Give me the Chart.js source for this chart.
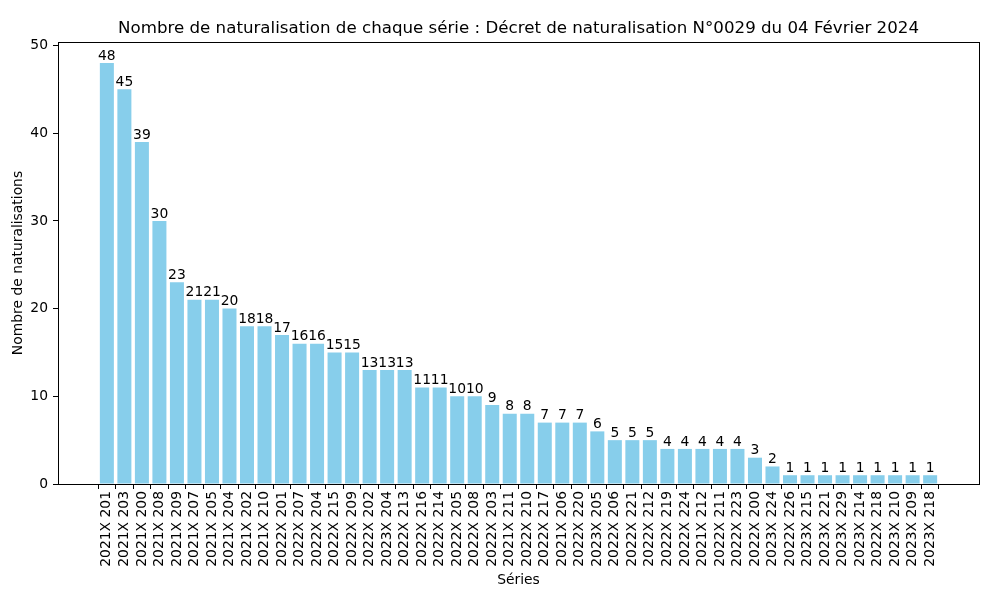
<!DOCTYPE html>
<html><head><meta charset="utf-8">
<script src="https://cdn.jsdelivr.net/npm/chart.js@4"></script>
<style>html,body{margin:0;padding:0;background:#fff}#w{width:989px;height:593px}</style>
</head><body><div id="w"><canvas id="c"></canvas></div>
<script>
const series = ["2021X 201","2021X 203","2021X 200","2021X 208","2021X 209","2021X 207","2021X 205","2021X 204","2021X 202","2021X 210","2022X 201","2022X 207","2022X 204","2022X 215","2022X 209","2022X 202","2023X 204","2022X 213","2022X 216","2022X 214","2022X 205","2022X 208","2022X 203","2021X 211","2022X 210","2022X 217","2021X 206","2022X 220","2023X 205","2022X 206","2022X 221","2022X 212","2022X 219","2022X 224","2021X 212","2022X 211","2022X 223","2022X 200","2023X 224","2022X 226","2023X 215","2023X 221","2023X 229","2023X 214","2022X 218","2023X 210","2023X 209","2023X 218"];
const counts = [48,45,39,30,23,21,21,20,18,18,17,16,16,15,15,13,13,13,11,11,10,10,9,8,8,7,7,7,6,5,5,5,4,4,4,4,4,3,2,1,1,1,1,1,1,1,1,1];
const yTicks = [0,10,20,30,40,50];
const titleText = 'Nombre de naturalisation de chaque série : Décret de naturalisation N°0029 du 04 Février 2024';

const FONT = "'DejaVu Sans', sans-serif";
const FS = 13.89, TFS = 16.67;
Chart.defaults.font.family = FONT;
Chart.defaults.color = '#000';

const n = series.length;
const span = (n - 1) + 0.8;
const xMin = -0.4 - 0.05 * span, xMax = (n - 1) + 0.4 + 0.05 * span;
const yMax = Math.max(...counts) * 1.05;

const boxPlugin = {
  id: 'box',
  afterDatasetsDraw(chart) {
    const ctx = chart.ctx, a = chart.chartArea;
    ctx.save();
    ctx.strokeStyle = '#000'; ctx.lineWidth = 1;
    ctx.strokeRect(Math.round(a.left) + 0.5, Math.round(a.top) + 0.5, Math.round(a.right - a.left), Math.round(a.bottom - a.top));
    const meta = chart.getDatasetMeta(0);
    ctx.font = FS + "px " + FONT;
    ctx.fillStyle = '#000';
    ctx.textAlign = 'center';
    ctx.textBaseline = 'bottom';
    meta.data.forEach((bar, i) => {
      ctx.fillText(String(counts[i]), bar.x, bar.y);
    });
    ctx.font = TFS + "px " + FONT;
    ctx.textBaseline = 'middle';
    ctx.fillText(titleText, (a.left + a.right) / 2, a.top - 13);
    ctx.restore();
  }
};

new Chart(document.getElementById('c'), {
  type: 'bar',
  data: {
    datasets: [{
      data: counts.map((v, i) => ({x: i, y: v})),
      backgroundColor: '#87CEEB',
      borderWidth: 0,
      barPercentage: 1.0,
      categoryPercentage: 0.8
    }]
  },
  plugins: [boxPlugin],
  options: {
    responsive: true,
    maintainAspectRatio: false,
    animation: false,
    devicePixelRatio: 1,
    layout: {padding: {left: 0, right: 10, top: 42, bottom: 0}},
    plugins: {
      legend: {display: false},
      tooltip: {enabled: false},
      title: {display: false}
    },
    scales: {
      x: {
        type: 'linear',
        min: xMin, max: xMax,
        offset: false,
        afterBuildTicks: s => { s.ticks = series.map((_, i) => ({value: i})); },
        afterFit: s => { s.height = 109; },
        ticks: {
          autoSkip: false,
          maxRotation: 90, minRotation: 90,
          font: {size: FS, family: FONT},
          color: '#000',
          padding: 2,
          callback: v => series[v] ?? ''
        },
        grid: {display: true, drawOnChartArea: false, drawTicks: true, tickLength: 5, color: '#000'},
        border: {display: false},
        title: {display: true, text: 'Séries', font: {size: FS, family: FONT}, color: '#000', padding: {top: 0, bottom: 4}}
      },
      y: {
        min: 0, max: yMax,
        afterBuildTicks: s => { s.ticks = yTicks.map(v => ({value: v})); },
        afterFit: s => { s.width = 58; },
        ticks: {font: {size: FS, family: FONT}, color: '#000', padding: 5},
        grid: {display: true, drawOnChartArea: false, drawTicks: true, tickLength: 5, color: '#000'},
        border: {display: false},
        title: {display: true, text: 'Nombre de naturalisations', font: {size: FS, family: FONT}, color: '#000', padding: {top: 10, bottom: 2}}
      }
    }
  }
});
</script>
</body></html>
